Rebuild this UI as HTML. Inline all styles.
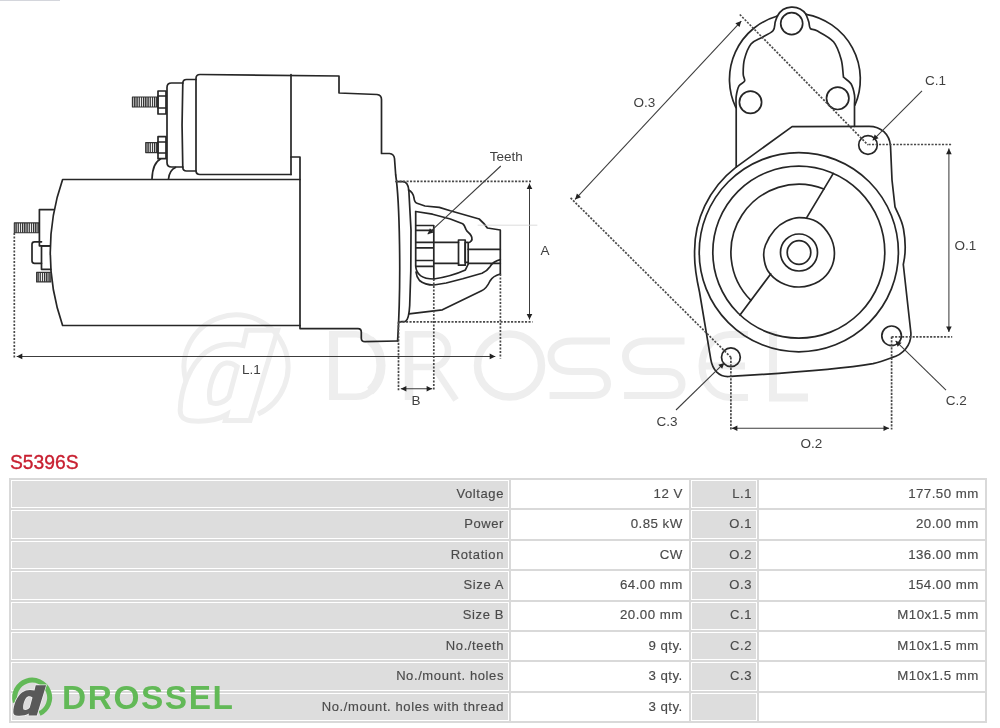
<!DOCTYPE html>
<html><head><meta charset="utf-8"><style>
html,body{margin:0;padding:0}
body{width:1000px;height:728px;position:relative;overflow:hidden;background:#fff;font-family:"Liberation Sans",sans-serif}
.c{position:absolute;box-sizing:border-box;display:flex;align-items:center;justify-content:flex-end;color:#4a4a4a;white-space:nowrap;-webkit-text-stroke:0.15px #4a4a4a}
.lt{font-size:13px;padding-right:5px;letter-spacing:0.6px;padding-bottom:1.8px}
.vt{font-size:13.3px;padding-right:6.3px;letter-spacing:0.45px;padding-bottom:1.6px}
.ttl{position:absolute;left:10px;top:451.2px;font-size:19.3px;color:#c81f30;-webkit-text-stroke:0.35px #c81f30;letter-spacing:0px;line-height:24px}
.logo{position:absolute;left:0;top:670px;width:240px;height:56px}
.wrap{position:absolute;left:0;top:0;width:1000px;height:728px;background:#fff;overflow:hidden;filter:blur(0.6px)}
</style></head><body>
<div class="wrap">
<svg width="1000" height="460" viewBox="0 0 1000 460" style="position:absolute;left:0;top:0"><g fill="none" stroke="#eeeeee" stroke-width="6.5">
<path d="M333.5 331 V400" stroke-width="9"/>
<path d="M334 334.2 H356 A26 31.3 0 0 1 356 396.8 H334"/>
<path d="M370 340 A26 31.3 0 0 1 370 391" stroke-width="9"/>
<path d="M409 331 V400" stroke-width="8.5"/>
<path d="M409 334.2 H432 A16 16.4 0 0 1 432 367 H409 M434 367 L456 400"/>
<ellipse cx="509.5" cy="365.5" rx="32" ry="31.5" stroke-width="7.5"/>
<path d="M610.0 341 H572.0 C560.0 341 551.0 347 551.0 356 C551.0 365 558.0 371.5 572.0 371.5 H592.0 C602.0 371.5 607.5 377 607.5 384 C607.5 391 602.0 395.5 592.0 395.5 H549.6" stroke-width="7"/>
<path d="M684.5 341 H646.5 C634.5 341 625.5 347 625.5 356 C625.5 365 632.5 371.5 646.5 371.5 H666.5 C676.5 371.5 682.0 377 682.0 384 C682.0 391 676.5 395.5 666.5 395.5 H624.1" stroke-width="7"/>
<path d="M748 334.5 H730 A28 31.5 0 0 0 730 397.5 H748 M705 366 H745" stroke-width="7"/>
<path d="M773 331 V397.5 H808" stroke-width="8"/>
</g><g fill="none" stroke="#eeeeee" stroke-width="5">
<path d="M186 381.3 A52 52 0 1 1 258 414.1"/>
<path d="M 246.7 330.2 L 277.6 330.2 L 250.0 420.5 L 225.3 420.5 L 226.8 414.5 C 217.9 419.9 206.0 421.6 194.1 421.1 C 183.7 420.5 179.9 417.2 180.2 409.8 C 180.8 389.0 189.7 365.2 206.0 351.9 C 217.9 343.2 229.8 342.9 243.1 345.6 Z M 210.5 402.3 C 216.4 405.3 225.3 402.3 229.2 396.4 L 237.2 366.7 C 229.8 360.8 222.3 362.2 217.9 368.2 C 211.3 377.7 207.5 392.5 210.5 402.3 Z"/>
</g></svg><svg width="1000" height="460" viewBox="0 0 1000 460" style="position:absolute;left:0;top:0">
<defs>
<pattern id="th" width="2.2" height="20" patternUnits="userSpaceOnUse"><rect width="2.2" height="20" fill="#fff"/><rect width="1.3" height="20" fill="#2a2a2a"/></pattern>
<style>
.s path,.s rect,.s circle{fill:none;stroke:#262626;stroke-width:1.7;stroke-linejoin:round;stroke-linecap:round}
.s rect.hz{fill:url(#th);stroke:#333;stroke-width:1.1}
.dl{stroke:#3c3c3c;stroke-width:1.05}
.dt{stroke:#4a4a4a;stroke-width:1.7;stroke-dasharray:2.1 1.4}
.ah{fill:#222;stroke:none}
.lb{font-family:"Liberation Sans",sans-serif;font-size:13.5px;fill:#404040;text-anchor:middle}
</style>
</defs>
<g class="s"><path d="M291 174.5 H200 Q196 174.5 196 170.5 V78.5 Q196 74.5 200 74.5 L339 76 V93 L377 94.5 Q381.5 95 381.5 99.5 V153.5 H389.5 Q394 154 394.5 158.5 L395.7 175"/><path d="M291 74.6 V174.5"/><path d="M291 157 H300 V328.6 H358 Q361.3 328.6 361.3 332 V338.5 Q361.5 341.7 365 341.7 L397.6 341"/><path d="M300 179.5 H62.6 A222 222 0 0 0 62.6 325.5 H300"/><path d="M395.7 175 C399.5 200 401.5 280 397.6 341"/><path d="M396.1 181.6 H403 Q408 182 408.8 190 L411 230 L410.8 271 L409.7 305.5 Q409 319 405.6 321.3 L399.4 321.8"/><path d="M196 79.5 H186.5 Q183 79.5 182.8 83 Q181.3 125 182.8 167.5 Q183 171 186.5 171 H196"/><path d="M183 83 H171.5 Q167 83 167 87.5 V162.5 Q167 167 171.5 167 H183"/><rect x="132.4" y="97.0" width="25.6" height="10.0" class="hz"/><rect x="145.7" y="142.6" width="12.3" height="10.0" class="hz"/><rect x="158" y="91" width="8" height="23"/><path d="M158 96 H166 M158 108 H166"/><rect x="158" y="136.7" width="8" height="22"/><path d="M158 142 H166 M158 153 H166"/><path d="M152 179 Q152.5 163 160.5 159 M168.5 179 Q169.5 170 175.5 167.5"/><rect x="14.3" y="222.9" width="25.1" height="9.9" class="hz"/><rect x="36.6" y="272.4" width="14.2" height="9.5" class="hz"/><path d="M53.5 209.6 H39.4 V245.8 H49.6"/><path d="M49.6 245.8 H41.5 V269.3 H50.8"/><path d="M41.5 241.8 H34.5 Q32 241.8 32 244.3 V260.8 Q32 263.3 34.5 263.3 H41.5"/><path d="M408.5 190 Q413 192 414 198 Q414.5 202.5 417 203.3 L425 206 L439.3 207.4 L450.3 210.8 L479.2 219 Q484.7 223.8 487.4 228 L500.3 230 V274"/><path d="M500.3 259.6 Q493 261.5 490.2 266.4 Q487 271 482 273.3 L462.7 278.8 L446.2 283 L433.8 285 Q425 285 419.5 280.5 Q416.5 277 416 272"/><path d="M500.3 274 Q492.8 276 490 281 Q486.5 288.5 481.6 290.8 L442.4 309.8 L409 313.8"/><path d="M415.7 211.5 L432.5 214.2 L450.3 219 L462.7 223.8 C464.5 225 465 227 466 229.5 C467 232 469.5 233 471 235.5 C472.5 238 472.5 240.5 469.6 242.4"/><path d="M415.7 211.5 V266 Q416.5 279 433.8 279 Q452 276 465.4 269.9 L468.5 263.5"/><path d="M416 225.5 H433.8 M416 230.4 H433.8 M416 242.4 H433.8 M416 247.9 H433.8 M416 260.5 H433.8 M416 266.4 H433.8 M433.8 225.5 V279"/><path d="M433.8 242.4 H458.5 M433.8 263.3 H458.5 M468.2 249.3 H500.3 M468.2 263.3 H500.3"/><rect x="458.5" y="240" width="6.7" height="25.2"/><rect x="465.2" y="242.4" width="3" height="19.9"/><circle cx="791.7" cy="23.6" r="11.0"/><path d="M777.4 16 A16.8 16.8 0 0 1 806 14.3"/><path d="M777.4 16 A65.8 65.8 0 0 0 735.8 107.5"/><path d="M806 14.3 A65.8 65.8 0 0 1 855 105"/><path d="M777.4 16.0 C777.0 17.0 775.9 19.5 775.2 22.0 C774.5 24.5 775.2 28.2 773.0 30.8 C770.8 33.4 765.7 35.2 762.0 37.4 C758.3 39.6 753.9 40.3 751.0 44.0 C748.1 47.7 745.7 54.4 744.4 59.4 C743.1 64.4 743.2 70.4 743.2 74.0 C743.2 77.6 745.3 79.0 744.6 81.0 C743.9 83.0 740.4 83.3 739.0 85.9 C737.6 88.5 736.7 92.8 736.2 96.4 C735.7 100.0 736.2 105.7 736.2 107.6 V167.2"/><path d="M806.0 14.3 C806.5 15.6 808.1 19.6 808.8 22.0 C809.5 24.4 809.0 27.1 810.4 28.6 C811.8 30.1 813.1 28.6 817.0 30.8 C820.9 33.0 829.5 37.0 833.5 41.8 C837.5 46.6 839.6 53.8 841.2 59.4 C842.8 65.0 842.8 72.4 843.3 75.4 C843.8 78.4 842.7 76.1 844.0 77.5 C845.3 78.9 849.2 80.9 851.0 83.8 C852.8 86.7 853.9 91.6 854.5 95.0 C855.1 98.4 854.5 102.5 854.5 104.0 V126.3"/><circle cx="750.5" cy="102.3" r="11.1"/><circle cx="837.7" cy="98.3" r="11.2"/><path d="M735.5 167.6 L792.1 126.6 L869 126.3 C881 126.3 889.5 134 890.5 146 L892 180 L895 206.8 C898 214 902 220 903.5 229 C905.5 240 905.5 255 903.3 264.5 L910.9 333 C911.5 345 903 355 891.6 357.7 C884 360.5 878 362.5 873 363.7 C830 371 770 374 728.8 376.5 C719 377 712.5 370 710.8 359.4 L699.5 292 C696 276 694.3 265 694.6 254 A106 106 0 0 1 735.5 167.6"/><circle cx="798.8" cy="252.2" r="99.6"/><circle cx="798.8" cy="252.2" r="86.0"/><circle cx="799.0" cy="252.5" r="18.5"/><circle cx="799.0" cy="252.5" r="11.8"/><path d="M799.4 217.6 C804.5 217.7 811.8 218.7 816.9 221.7 C822.0 224.7 826.8 230.6 829.7 235.7 C832.6 240.8 834.2 246.6 834.4 252.0 C834.6 257.4 833.4 263.5 830.9 268.4 C828.4 273.3 824.5 278.1 819.2 281.2 C814.0 284.3 805.8 286.8 799.4 287.0 C793.0 287.2 786.0 285.1 780.7 282.4 C775.4 279.7 770.6 275.0 767.8 270.7 C765.0 266.4 764.2 261.0 763.8 256.7 C763.4 252.4 763.7 249.5 765.5 245.0 C767.3 240.5 771.3 233.8 774.8 229.8 C778.3 225.8 782.4 223.1 786.5 221.1 C790.6 219.1 794.3 217.5 799.4 217.6Z"/><path d="M823.9 189 A68 68 0 0 0 750.9 300.4"/><path d="M806.7 217.6 L833.3 173.4 M770.7 274 L740 315"/><circle cx="868.0" cy="145.0" r="9.3"/><circle cx="891.6" cy="335.8" r="9.8"/><circle cx="730.9" cy="357.3" r="9.4"/></g>
<g><line x1="14.3" y1="233.0" x2="14.3" y2="358.4" class="dt"/><line x1="16.7" y1="356.4" x2="495.3" y2="356.4" class="dl"/><path d="M495.3 356.4 L489.7 359.2 L489.7 353.6 Z" class="ah"/><path d="M16.7 356.4 L22.3 353.6 L22.3 359.2 Z" class="ah"/><line x1="500.4" y1="274.0" x2="500.4" y2="358.4" class="dt"/><line x1="396.0" y1="181.3" x2="531.0" y2="181.3" class="dt"/><line x1="399.0" y1="321.8" x2="532.5" y2="321.8" class="dt"/><line x1="529.5" y1="183.5" x2="529.5" y2="319.5" class="dl"/><path d="M529.5 319.5 L526.7 313.9 L532.3 313.9 Z" class="ah"/><path d="M529.5 183.5 L532.3 189.1 L526.7 189.1 Z" class="ah"/><line x1="398.5" y1="321.8" x2="398.5" y2="390.3" class="dt"/><line x1="433.8" y1="279.0" x2="433.8" y2="390.8" class="dt"/><line x1="400.8" y1="388.7" x2="432.2" y2="388.7" class="dl"/><path d="M432.2 388.7 L426.6 391.5 L426.6 385.9 Z" class="ah"/><path d="M400.8 388.7 L406.4 385.9 L406.4 391.5 Z" class="ah"/><line x1="500.8" y1="166" x2="427.7" y2="234.2" class="dl"/><path d="M427.7 234.2 L429.9 228.3 L433.7 232.4 Z" class="ah"/><line x1="477.7" y1="225.2" x2="537.3" y2="225.2" stroke="#d4d4d4" stroke-width="0.8"/><line x1="741.3" y1="21.1" x2="575.1" y2="199.4" class="dl"/><path d="M575.1 199.4 L576.9 193.4 L581.0 197.2 Z" class="ah"/><path d="M741.3 21.1 L739.5 27.1 L735.4 23.3 Z" class="ah"/><line x1="739.8" y1="14.5" x2="868.0" y2="145.0" class="dt"/><line x1="570.6" y1="197.9" x2="730.9" y2="357.3" class="dt"/><line x1="922" y1="90.9" x2="872.7" y2="140.3" class="dl"/><path d="M872.7 140.3 L874.7 134.4 L878.6 138.3 Z" class="ah"/><line x1="868.5" y1="144.5" x2="952.2" y2="144.5" class="dt"/><line x1="948.9" y1="148.6" x2="948.9" y2="332.0" class="dl"/><path d="M948.9 332.0 L946.1 326.4 L951.7 326.4 Z" class="ah"/><path d="M948.9 148.6 L951.7 154.2 L946.1 154.2 Z" class="ah"/><line x1="891.6" y1="336.8" x2="952.2" y2="336.8" class="dt"/><line x1="946" y1="390.2" x2="895.6" y2="340.9" class="dl"/><path d="M895.6 340.9 L901.6 342.8 L897.6 346.8 Z" class="ah"/><line x1="676" y1="410" x2="724.3" y2="362.9" class="dl"/><path d="M724.3 362.9 L722.2 368.8 L718.3 364.8 Z" class="ah"/><line x1="730.9" y1="357.3" x2="730.9" y2="429.6" class="dt"/><line x1="891.6" y1="336.8" x2="891.6" y2="429.6" class="dt"/><line x1="731.8" y1="428.2" x2="889.1" y2="428.2" class="dl"/><path d="M889.1 428.2 L883.5 431.0 L883.5 425.4 Z" class="ah"/><path d="M731.8 428.2 L737.4 425.4 L737.4 431.0 Z" class="ah"/></g>
<g class="lb"><text x="506.2" y="161.0">Teeth</text><text x="545.0" y="254.5">A</text><text x="251.3" y="374.0">L.1</text><text x="416.1" y="404.6">B</text><text x="644.5" y="107.2">O.3</text><text x="935.4" y="84.6">C.1</text><text x="965.3" y="249.6">O.1</text><text x="956.2" y="404.8">C.2</text><text x="667.0" y="426.0">C.3</text><text x="811.5" y="447.7">O.2</text></g>
</svg>
<div class="ttl">S5396S</div>
<div style="position:absolute;left:0;top:0;width:60px;height:1px;background:#d4d6dc"></div>
<div style="position:absolute;left:9px;top:478px;width:978px;height:245px;background:#d9d9d9"></div><div class="c lt" style="left:11px;top:480.00px;width:498px;height:28.40px;background:#ddd;box-shadow:inset 0 0 0 1px #fff;"><span>Voltage</span></div><div class="c vt" style="left:511px;top:480.00px;width:178px;height:28.40px;background:#fff;"><span>12 V</span></div><div class="c lt" style="left:691px;top:480.00px;width:66px;height:28.40px;background:#ddd;box-shadow:inset 0 0 0 1px #fff;"><span>L.1</span></div><div class="c vt" style="left:759px;top:480.00px;width:226px;height:28.40px;background:#fff;"><span>177.50 mm</span></div><div class="c lt" style="left:11px;top:510.40px;width:498px;height:28.40px;background:#ddd;box-shadow:inset 0 0 0 1px #fff;"><span>Power</span></div><div class="c vt" style="left:511px;top:510.40px;width:178px;height:28.40px;background:#fff;"><span>0.85 kW</span></div><div class="c lt" style="left:691px;top:510.40px;width:66px;height:28.40px;background:#ddd;box-shadow:inset 0 0 0 1px #fff;"><span>O.1</span></div><div class="c vt" style="left:759px;top:510.40px;width:226px;height:28.40px;background:#fff;"><span>20.00 mm</span></div><div class="c lt" style="left:11px;top:540.80px;width:498px;height:28.40px;background:#ddd;box-shadow:inset 0 0 0 1px #fff;"><span>Rotation</span></div><div class="c vt" style="left:511px;top:540.80px;width:178px;height:28.40px;background:#fff;"><span>CW</span></div><div class="c lt" style="left:691px;top:540.80px;width:66px;height:28.40px;background:#ddd;box-shadow:inset 0 0 0 1px #fff;"><span>O.2</span></div><div class="c vt" style="left:759px;top:540.80px;width:226px;height:28.40px;background:#fff;"><span>136.00 mm</span></div><div class="c lt" style="left:11px;top:571.20px;width:498px;height:28.40px;background:#ddd;box-shadow:inset 0 0 0 1px #fff;"><span>Size A</span></div><div class="c vt" style="left:511px;top:571.20px;width:178px;height:28.40px;background:#fff;"><span>64.00 mm</span></div><div class="c lt" style="left:691px;top:571.20px;width:66px;height:28.40px;background:#ddd;box-shadow:inset 0 0 0 1px #fff;"><span>O.3</span></div><div class="c vt" style="left:759px;top:571.20px;width:226px;height:28.40px;background:#fff;"><span>154.00 mm</span></div><div class="c lt" style="left:11px;top:601.60px;width:498px;height:28.40px;background:#ddd;box-shadow:inset 0 0 0 1px #fff;"><span>Size B</span></div><div class="c vt" style="left:511px;top:601.60px;width:178px;height:28.40px;background:#fff;"><span>20.00 mm</span></div><div class="c lt" style="left:691px;top:601.60px;width:66px;height:28.40px;background:#ddd;box-shadow:inset 0 0 0 1px #fff;"><span>C.1</span></div><div class="c vt" style="left:759px;top:601.60px;width:226px;height:28.40px;background:#fff;"><span>M10x1.5 mm</span></div><div class="c lt" style="left:11px;top:632.00px;width:498px;height:28.40px;background:#ddd;box-shadow:inset 0 0 0 1px #fff;"><span>No./teeth</span></div><div class="c vt" style="left:511px;top:632.00px;width:178px;height:28.40px;background:#fff;"><span>9 qty.</span></div><div class="c lt" style="left:691px;top:632.00px;width:66px;height:28.40px;background:#ddd;box-shadow:inset 0 0 0 1px #fff;"><span>C.2</span></div><div class="c vt" style="left:759px;top:632.00px;width:226px;height:28.40px;background:#fff;"><span>M10x1.5 mm</span></div><div class="c lt" style="left:11px;top:662.40px;width:498px;height:28.40px;background:#ddd;box-shadow:inset 0 0 0 1px #fff;"><span>No./mount. holes</span></div><div class="c vt" style="left:511px;top:662.40px;width:178px;height:28.40px;background:#fff;"><span>3 qty.</span></div><div class="c lt" style="left:691px;top:662.40px;width:66px;height:28.40px;background:#ddd;box-shadow:inset 0 0 0 1px #fff;"><span>C.3</span></div><div class="c vt" style="left:759px;top:662.40px;width:226px;height:28.40px;background:#fff;"><span>M10x1.5 mm</span></div><div class="c lt" style="left:11px;top:692.80px;width:498px;height:28.40px;background:#ddd;box-shadow:inset 0 0 0 1px #fff;"><span>No./mount. holes with thread</span></div><div class="c vt" style="left:511px;top:692.80px;width:178px;height:28.40px;background:#fff;"><span>3 qty.</span></div><div class="c lt" style="left:691px;top:692.80px;width:66px;height:28.40px;background:#ddd;box-shadow:inset 0 0 0 1px #fff;"><span></span></div><div class="c vt" style="left:759px;top:692.80px;width:226px;height:28.40px;background:#fff;"><span></span></div>
<div class="logo">
<svg width="240" height="56" viewBox="0 670 240 56" style="position:absolute;left:0;top:0">
<circle cx="32.1" cy="697.6" r="19.6" fill="#dcdcdc"/>
<path d="M15.3 702.4 A17.5 17.5 0 1 1 39.5 713.5" fill="none" stroke="#62b957" stroke-width="5"/>
<path d="M35.7 685.2 L46.1 685.2 L36.8 715.6 L28.5 715.6 L29 713.6 C26 715.4 22 716 18 715.8 C14.5 715.6 13.2 714.5 13.3 712 C13.5 705 16.5 697 22 692.5 C26 689.6 30 689.5 34.5 690.4 Z M23.5 709.5 C25.5 710.5 28.5 709.5 29.8 707.5 L32.5 697.5 C30 695.5 27.5 696 26 698 C23.8 701.2 22.5 706.2 23.5 709.5 Z" fill="#595959" stroke="#f4f4f4" stroke-width="1.3" fill-rule="evenodd" paint-order="stroke"/>
<text x="62" y="708.6" font-family="Liberation Sans" font-weight="bold" font-size="33.4" fill="#62b957" letter-spacing="1.6">DROSSEL</text>
</svg>
</div>
</div>
</body></html>
